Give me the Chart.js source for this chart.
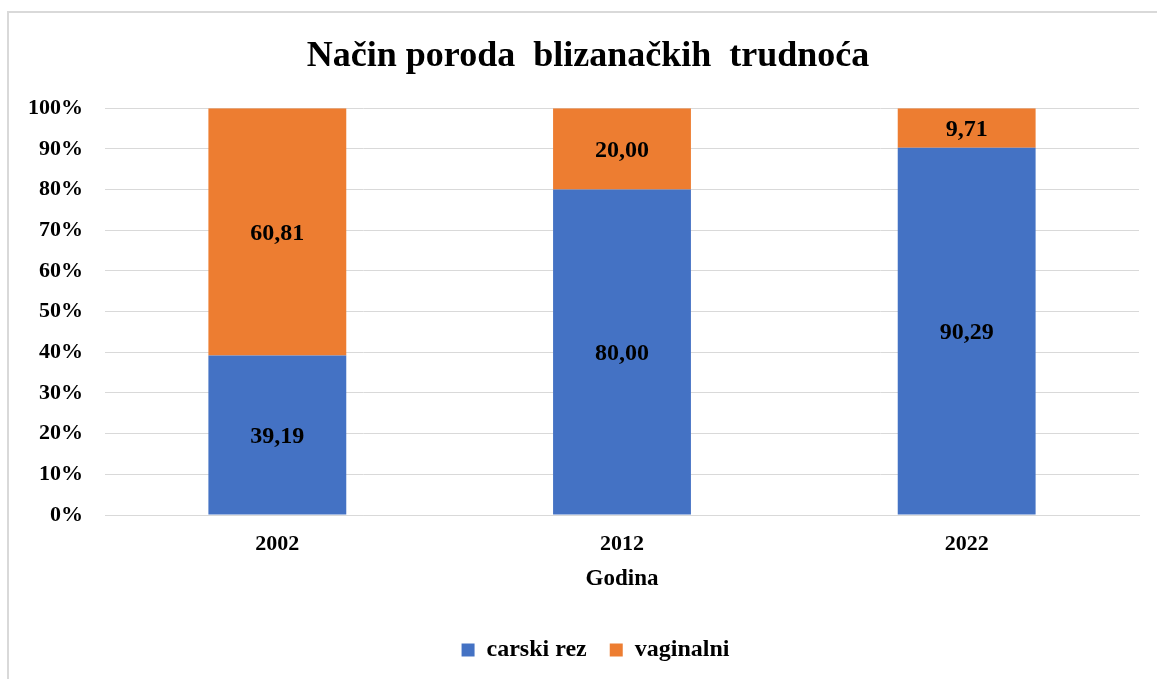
<!DOCTYPE html>
<html>
<head>
<meta charset="utf-8">
<script src="https://cdn.jsdelivr.net/npm/chart.js@4.4.1/dist/chart.umd.min.js"></script>
<style>
  html, body { margin: 0; padding: 0; background: #fff; }
  #wrap { width: 1157px; height: 679px; position: relative; }
</style>
</head>
<body>
<div id="wrap"><canvas id="c" width="1157" height="679"></canvas></div>
<script>
const categories = ['2002', '2012', '2022'];
const carskiRez = [39.19, 80.00, 90.29];
const vaginalni = [60.81, 20.00, 9.71];
const seriesNames = ['carski rez', 'vaginalni'];
const titleText = 'Način poroda  blizanačkih  trudnoća';
const xTitle = 'Godina';

const FONT = "'Liberation Serif', 'Times New Roman', serif";

const borderPlugin = {
  id: 'frame',
  beforeDraw(chart) {
    const ctx = chart.ctx;
    ctx.save();
    ctx.fillStyle = '#ffffff';
    ctx.fillRect(0, 0, chart.width, chart.height);
    ctx.strokeStyle = '#d9d9d9';
    ctx.lineWidth = 2;
    ctx.beginPath();
    ctx.moveTo(8, chart.height + 5);
    ctx.lineTo(8, 12);
    ctx.lineTo(chart.width + 5, 12);
    ctx.stroke();
    ctx.restore();
  }
};

// shift the centre of title and legend to match the reference layout
const shiftPlugin = {
  id: 'shiftBlocks',
  afterLayout(chart) {
    if (chart.titleBlock) chart.titleBlock.left += 37;
    if (chart.legend) chart.legend.left += 52;
  }
};

const labelPlugin = {
  id: 'segLabels',
  afterDatasetsDraw(chart) {
    const ctx = chart.ctx;
    ctx.save();
    ctx.font = "bold 24px " + FONT;
    ctx.fillStyle = '#000000';
    ctx.textAlign = 'center';
    ctx.textBaseline = 'middle';
    chart.data.datasets.forEach((ds, i) => {
      const meta = chart.getDatasetMeta(i);
      meta.data.forEach((bar, j) => {
        const v = ds.data[j];
        const y = (bar.y + bar.base) / 2;
        ctx.fillText(v.toFixed(2).replace('.', ','), bar.x, y + 2);
      });
    });
    ctx.restore();
  }
};

new Chart(document.getElementById('c'), {
  type: 'bar',
  data: {
    labels: categories,
    datasets: [
      { label: seriesNames[0], data: carskiRez, backgroundColor: '#4472C4', barPercentage: 0.4, categoryPercentage: 1.0 },
      { label: seriesNames[1], data: vaginalni, backgroundColor: '#ED7D31', barPercentage: 0.4, categoryPercentage: 1.0 }
    ]
  },
  options: {
    responsive: false,
    animation: false,
    layout: { padding: { left: 0, right: 18, top: 0, bottom: 7 } },
    scales: {
      x: {
        stacked: true,
        afterFit(scale) { scale.height = 100; },
        grid: { display: false, drawTicks: false },
        border: { display: true, color: '#d9d9d9' },
        ticks: { color: '#000', font: { family: FONT, size: 22, weight: 'bold' }, padding: 16 },
        title: { display: true, text: xTitle, color: '#000', font: { family: FONT, size: 23, weight: 'bold' }, padding: { top: 0, bottom: 22 } }
      },
      y: {
        stacked: true,
        min: 0, max: 100,
        afterFit(scale) { scale.width = 105; },
        grid: { color: '#d9d9d9', drawTicks: false },
        border: { display: false },
        ticks: {
          stepSize: 10,
          color: '#000',
          padding: 22,
          font: { family: FONT, size: 22, weight: 'bold' },
          callback: v => v + '%'
        }
      }
    },
    plugins: {
      title: {
        display: true,
        text: titleText,
        color: '#000',
        font: { family: FONT, size: 36, weight: 'bold' },
        padding: { top: 35, bottom: 30 }
      },
      legend: {
        display: true,
        position: 'bottom',
        labels: {
          color: '#000',
          boxWidth: 13, boxHeight: 13,
          padding: 23,
          font: { family: FONT, size: 24, weight: 'bold' }
        }
      },
      tooltip: { enabled: false }
    }
  },
  plugins: [borderPlugin, shiftPlugin, labelPlugin]
});
</script>
</body>
</html>
